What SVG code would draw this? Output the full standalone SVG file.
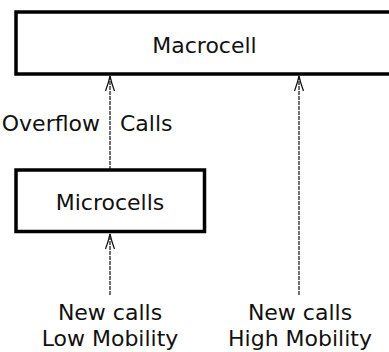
<svg xmlns="http://www.w3.org/2000/svg" width="389" height="352" viewBox="0 0 389 352">
<style>
.box{fill:#fff;stroke:#000;stroke-width:3.5}
.lbl{font-family:"DejaVu Sans",sans-serif;font-size:22px;fill:#111}
.conn{stroke:#222;stroke-width:1.3;stroke-dasharray:4 1;fill:none}
.ah{stroke:#111;stroke-width:1.2;fill:none}
</style>
<defs>
<path id="head" class="ah" d="M-4.5,15 Q-1.5,7 0,0 Q1.5,7 4.5,15"/>
</defs>
<rect width="389" height="352" fill="#fff"/>
<g id="connectors">
<line class="conn" x1="110" y1="170" x2="110" y2="76"/>
<use href="#head" x="110" y="76"/>
<line class="conn" x1="110" y1="295" x2="110" y2="234"/>
<use href="#head" x="110" y="234"/>
<line class="conn" x1="299" y1="295" x2="299" y2="76"/>
<use href="#head" x="299" y="76"/>
<text class="lbl" x="100" y="131" text-anchor="end">Overflow</text>
<text class="lbl" x="120" y="131">Calls</text>
</g>
<g id="macrocell">
<rect class="box" x="16" y="12" width="390" height="62"/>
<text class="lbl" x="204.5" y="53" text-anchor="middle">Macrocell</text>
</g>
<g id="microcells">
<rect class="box" x="16" y="170" width="188.5" height="61.5"/>
<text class="lbl" x="110" y="210" text-anchor="middle">Microcells</text>
</g>
<g id="low">
<text class="lbl" x="110" y="320" text-anchor="middle">New calls</text>
<text class="lbl" x="110" y="346" text-anchor="middle">Low Mobility</text>
</g>
<g id="high">
<text class="lbl" x="300" y="320" text-anchor="middle">New calls</text>
<text class="lbl" x="300" y="346" text-anchor="middle">High Mobility</text>
</g>
</svg>
